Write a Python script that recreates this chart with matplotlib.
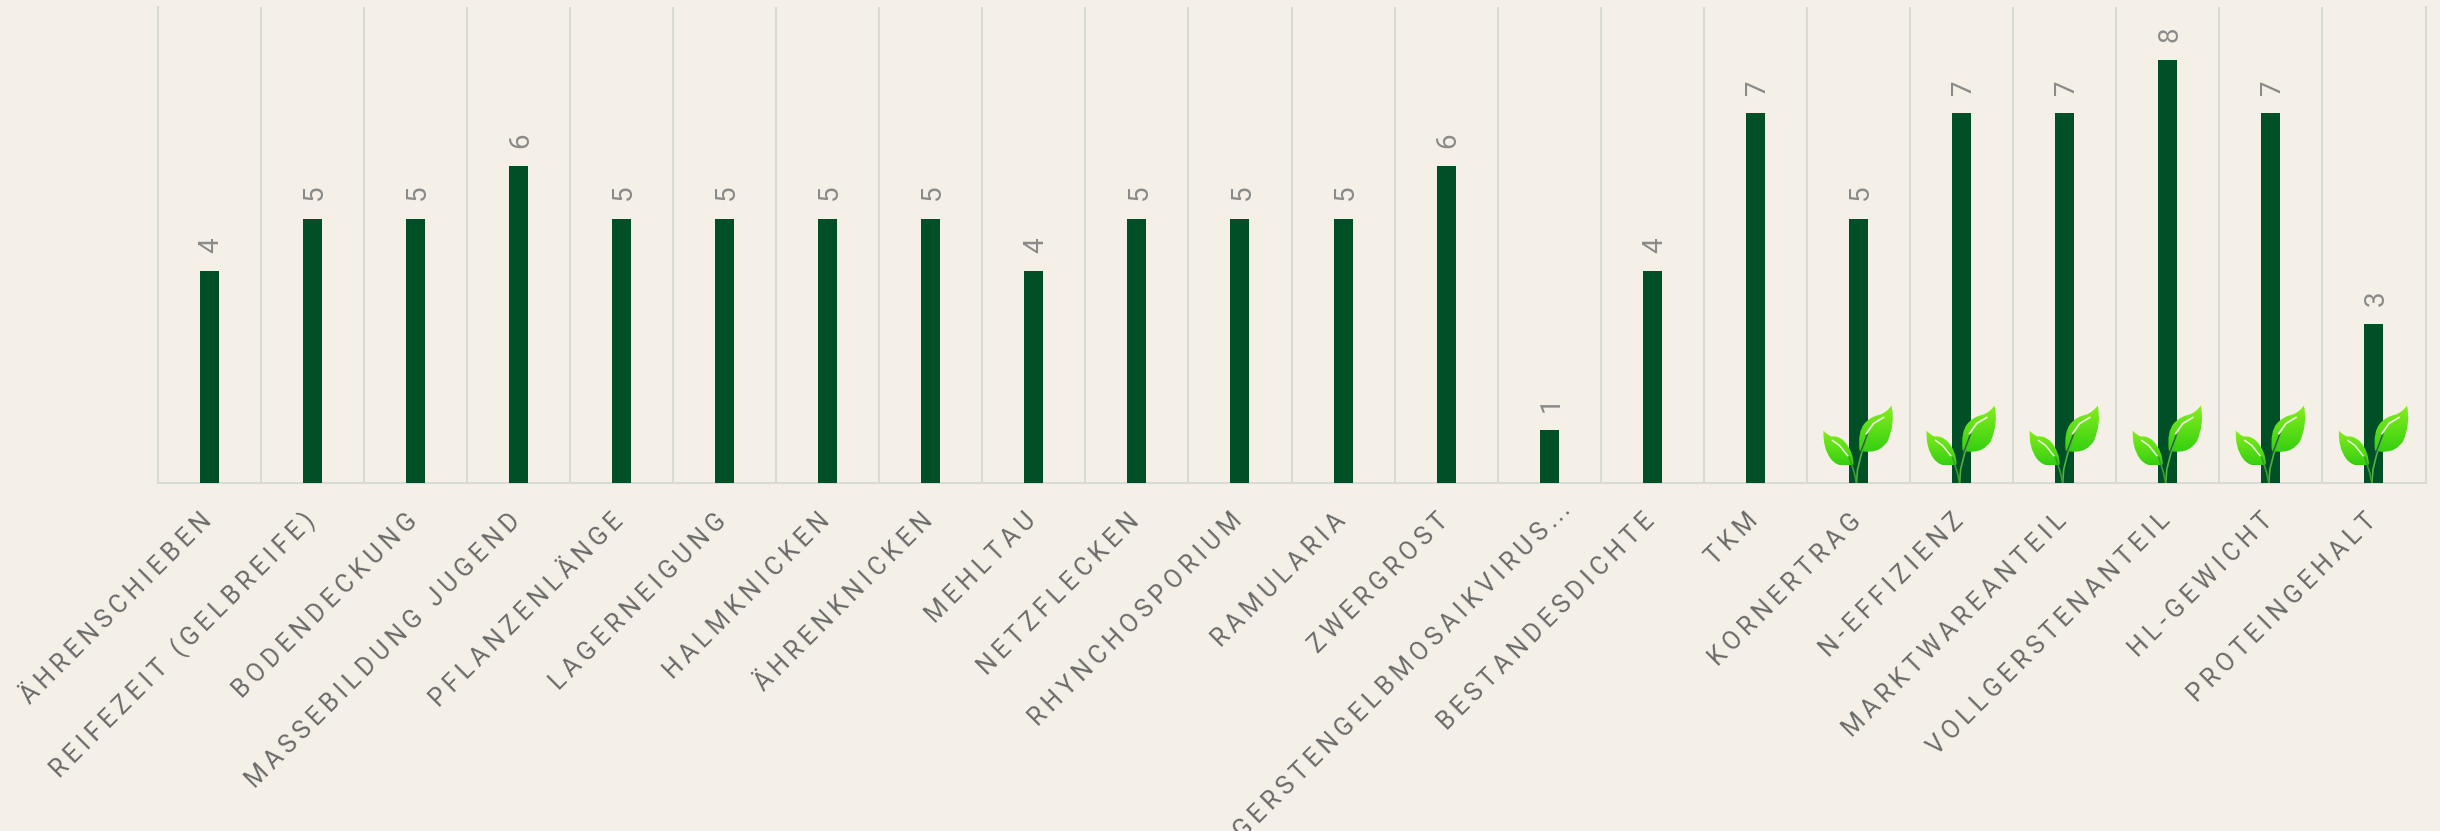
import numpy as np
import matplotlib
matplotlib.use("Agg")
import matplotlib.pyplot as plt
from matplotlib.patches import PathPatch
from matplotlib.path import Path
from matplotlib.transforms import Affine2D, ScaledTranslation

categories = [
    "ÄHRENSCHIEBEN", "REIFEZEIT (GELBREIFE)", "BODENDECKUNG", "MASSEBILDUNG JUGEND",
    "PFLANZENLÄNGE", "LAGERNEIGUNG", "HALMKNICKEN", "ÄHRENKNICKEN", "MEHLTAU",
    "NETZFLECKEN", "RHYNCHOSPORIUM", "RAMULARIA", "ZWERGROST",
    "GERSTENGELBMOSAIKVIRUS...", "BESTANDESDICHTE", "TKM", "KORNERTRAG", "N-EFFIZIENZ",
    "MARKTWAREANTEIL", "VOLLGERSTENANTEIL", "HL-GEWICHT", "PROTEINGEHALT",
]
values = [4, 5, 5, 6, 5, 5, 5, 5, 4, 5, 5, 5, 6, 1, 4, 7, 5, 7, 7, 8, 7, 3]
has_leaf = [False] * 16 + [True] * 6

BG = "#f4f0e8"
BAR = "#004f27"
GRID = "#d9d9d6"
FONT = ["Roboto", "DejaVu Sans"]
HAIR = "\u200a\u200a"


def spaced(text):
    # the label font is letter-spaced, matplotlib has no tracking option
    if text.endswith("..."):
        return HAIR.join(text[:-3]) + HAIR + "\u200a".join("...")
    return HAIR.join(text)


def curve(points):
    # closed smooth outline through the points (pixels from the stem foot)
    verts = [points[0]]
    codes = [Path.MOVETO]
    for i in range(1, len(points) - 1, 2):
        verts += [points[i], points[i + 1]]
        codes += [Path.CURVE3, Path.CURVE3]
    verts.append(points[0])
    codes.append(Path.CLOSEPOLY)
    return Path(verts, codes)


RIGHT_LEAF = curve([(3, 33), (1, 52), (8, 60), (14, 67), (24, 69), (31, 72), (35, 78),
                    (39, 60), (31, 42), (24, 32), (14, 32), (8, 31), (3, 33)])
LEFT_LEAF = curve([(-33, 53), (-34, 36), (-26, 25), (-20, 17), (-11, 18), (-6, 18), (-3, 19),
                   (-3, 32), (-12, 42), (-18, 48), (-25, 47), (-30, 49), (-33, 53)])


def draw_leaf(ax, x):
    foot = ax.transData.transform((x, 0)) + (-2, -1)
    local = Affine2D().translate(*foot)
    gradient = np.linspace(0, 1, 80)[:, None]
    cmap = matplotlib.colors.LinearSegmentedColormap.from_list("leaf", ["#35cf12", "#86ee1c"])
    for path, y0, y1 in ((RIGHT_LEAF, 31, 78), (LEFT_LEAF, 18, 53)):
        img = ax.imshow(gradient, cmap=cmap, origin="lower", aspect="auto", zorder=4,
                        extent=(-40, 40, y0, y1), transform=local)
        img.set_clip_path(PathPatch(path, transform=local))
    ax.plot([0, 1, 5, 11], [0, 14, 30, 49], transform=local, color="#4db53a", lw=1.2, zorder=5)
    ax.plot([0, -2, -7], [0, 10, 26], transform=local, color="#3f9a35", lw=1.2, zorder=5)
    ax.plot([4, 7, 11], [31, 39, 50], transform=local, color="#2f5f3c", lw=1.0, zorder=5)
    ax.plot([10, 17, 27], [50, 60, 66], transform=local, color="#eefbe0", lw=1.3, zorder=6)
    ax.plot([-24, -17, -9], [43, 38, 28], transform=local, color="#eefbe0", lw=1.1, zorder=6)


W, H = 2440, 831
fig = plt.figure(figsize=(W / 100, H / 100), dpi=100, facecolor=BG)
ax = fig.add_axes([157.5 / W, 1 - 482.5 / H, 2268 / W, 475.2 / H], facecolor=BG)

x = np.arange(len(categories))
ax.bar(x, values, width=0.184, color=BAR, zorder=3)
for xi, v in zip(x, values):
    ax.annotate(str(v), (xi, v), xytext=(1.5, 13), textcoords="offset points", rotation=90,
                ha="center", va="bottom", fontsize=20, color="#8a8a88", family=FONT)

ax.set_xlim(-0.5, len(categories) - 0.5)
ax.set_ylim(0, 9)
ax.set_yticks([])
ax.set_xticks(x, [spaced(c) for c in categories], rotation=45, ha="right", va="center",
              rotation_mode="anchor", fontsize=18, color="#6a6a6a", family=FONT)
ax.set_xticks(x[:-1] + 0.5, minor=True)
ax.tick_params(axis="x", which="both", length=0, pad=25)
for label, name in zip(ax.get_xticklabels(), categories):
    # the truncated label sits further along its own direction in the reference
    dx, dy = (18, 11) if name.endswith("...") else (-1.5, 0)
    label.set_transform(label.get_transform() + ScaledTranslation(dx / 100, dy / 100, fig.dpi_scale_trans))
ax.grid(axis="x", which="minor", color=GRID, lw=1.5, zorder=1)
ax.spines["top"].set_visible(False)
for side in ("left", "right", "bottom"):
    ax.spines[side].set_color(GRID)
    ax.spines[side].set_linewidth(1.5)

for xi, leaf in zip(x, has_leaf):
    if leaf:
        draw_leaf(ax, xi)
ax.set_xlim(-0.5, len(categories) - 0.5)
ax.set_ylim(0, 9)

fig.savefig("out.png", dpi=100, facecolor=BG)
